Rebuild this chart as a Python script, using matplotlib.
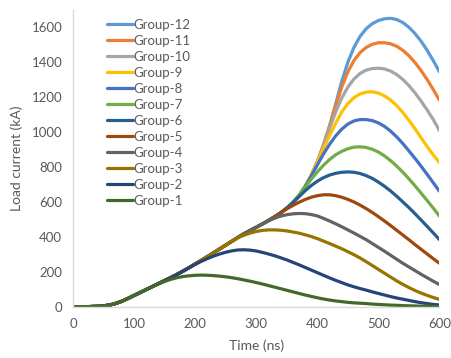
import numpy as np
import matplotlib
matplotlib.use("Agg")
import matplotlib.pyplot as plt

plt.rcParams['font.family'] = ['Lato', 'DejaVu Sans']

# time axis (ns), every 10 ns
t = list(range(0, 601, 10))

# shared rising part that all groups follow before they peel off (kA), t = 0..410
rise = [0, 0, 0, 1, 2, 5, 10, 19, 32, 48, 65, 82, 99, 116, 133, 150, 167,
        185, 204, 224, 245, 266, 287, 309, 331, 353, 375, 397, 418, 437, 455,
        474, 494, 515, 538, 565, 597, 637, 688, 752, 830, 925]

# each group's own part, from the time it leaves the shared rise up to 600 ns
g1_start, g1_tail = 140, [131, 145, 157, 166, 173, 177, 180, 181, 180, 178,
                          175, 171, 166, 160, 153, 146, 138, 130, 121, 112,
                          103, 94, 85, 76, 67, 59, 51, 44, 38, 33,
                          29, 25, 22, 20, 18, 15, 13, 11, 9, 8,
                          6, 5, 4, 3, 3, 2, 2]
g2_start, g2_tail = 200, [243, 260, 276, 290, 302, 312, 320, 325, 326, 324,
                          319, 311, 302, 292, 280, 268, 254, 240, 225, 210,
                          195, 180, 165, 151, 138, 125, 114, 104, 95, 85,
                          76, 67, 58, 50, 43, 36, 29, 23, 18, 13, 10]
g3_start, g3_tail = 270, [395, 410, 422, 431, 437, 440, 440, 438, 434, 428,
                          421, 412, 402, 390, 376, 362, 347, 332, 315, 298,
                          279, 258, 236, 214, 192, 170, 148, 128, 110, 93,
                          78, 65, 53, 42]
g4_start, g4_tail = 310, [474, 492, 507, 519, 527, 532, 534, 533, 528, 520,
                          506, 491, 475, 458, 440, 422, 403, 384, 362, 340,
                          318, 295, 272, 249, 228, 207, 186, 166, 146, 127]
g5_start, g5_tail = 350, [560, 580, 598, 614, 627, 636, 641, 641, 636, 627,
                          615, 600, 582, 562, 540, 516, 491, 465, 438, 411,
                          384, 356, 329, 302, 275, 249]
g6_start, g6_tail = 360, [596, 630, 664, 694, 719, 739, 754, 764, 770, 772,
                          770, 763, 751, 735, 714, 690, 663, 633, 601, 568,
                          533, 497, 460, 423, 385]
g7_start, g7_tail = 370, [636, 683, 730, 772, 810, 843, 870, 890, 905, 914,
                          916, 912, 902, 886, 864, 837, 806, 771, 733, 693,
                          651, 608, 565, 520]
g8_start, g8_tail = 380, [688, 748, 812, 874, 930, 978, 1017, 1046, 1064, 1072,
                          1072, 1066, 1053, 1033, 1006, 973, 935, 893, 850, 805,
                          758, 710, 662]
g9_start, g9_tail = 390, [752, 828, 905, 980, 1050, 1115, 1163, 1197, 1219, 1229,
                          1231, 1224, 1208, 1184, 1152, 1113, 1068, 1020, 968, 917,
                          870, 826]
g10_start, g10_tail = 400, [830, 920, 1020, 1115, 1195, 1258, 1304, 1336, 1355, 1364,
                            1366, 1362, 1350, 1330, 1302, 1267, 1225, 1178, 1127, 1072,
                            1010]
g11_start, g11_tail = 410, [925, 1033, 1150, 1258, 1345, 1410, 1455, 1485, 1503, 1512,
                            1512, 1506, 1492, 1469, 1438, 1399, 1353, 1301, 1244, 1184]
g12_start, g12_tail = 420, [1035, 1160, 1290, 1400, 1485, 1548, 1592, 1621, 1639, 1649,
                            1652, 1645, 1628, 1601, 1565, 1521, 1469, 1410, 1346]

names = ['Group-12', 'Group-11', 'Group-10', 'Group-9', 'Group-8', 'Group-7',
         'Group-6', 'Group-5', 'Group-4', 'Group-3', 'Group-2', 'Group-1']
starts = [g12_start, g11_start, g10_start, g9_start, g8_start, g7_start,
          g6_start, g5_start, g4_start, g3_start, g2_start, g1_start]
tails = [g12_tail, g11_tail, g10_tail, g9_tail, g8_tail, g7_tail,
         g6_tail, g5_tail, g4_tail, g3_tail, g2_tail, g1_tail]
colors = ['#5B9BD5', '#ED7D31', '#A5A5A5', '#FFC000', '#4472C4', '#70AD47',
          '#255E91', '#9E480E', '#636363', '#997300', '#264478', '#43682B']

fig = plt.figure(figsize=(4.52, 3.58), dpi=100)
ax = fig.add_axes([0.1622, 0.1433, 0.8098, 0.829])

lines = []
for name, st, tail, c in zip(names, starts, tails, colors):
    k = st // 10
    vals = rise[:k] + tail
    ln, = ax.plot(t, vals, color=c, lw=2.3, label=name,
                  solid_capstyle='round', solid_joinstyle='round')
    lines.append(ln)

ax.set_xlim(0, 600)
ax.set_ylim(0, 1700)
ax.set_xticks(range(0, 601, 100))
ax.set_yticks(range(0, 1601, 200))

txt = '#595959'
for s in ['top', 'right']:
    ax.spines[s].set_visible(False)
for s in ['left', 'bottom']:
    ax.spines[s].set_color('#D9D9D9')
    ax.spines[s].set_linewidth(1.0)
ax.tick_params(length=0, labelsize=9.5, colors=txt, pad=8)

ax.set_xlabel('Time (ns)', fontsize=10, color=txt, labelpad=7)
ax.set_ylabel('Load current (kA)', fontsize=10, color=txt, labelpad=6)

leg = ax.legend(handles=lines, loc='upper left',
                bbox_to_anchor=(107 / 452, 1 - 19 / 358),
                bbox_transform=fig.transFigure, frameon=False,
                fontsize=9.5, labelcolor=txt, handlelength=2.0,
                handletextpad=0.0, labelspacing=0.30, borderpad=0,
                borderaxespad=0)

fig.savefig('out.png', dpi=100)
